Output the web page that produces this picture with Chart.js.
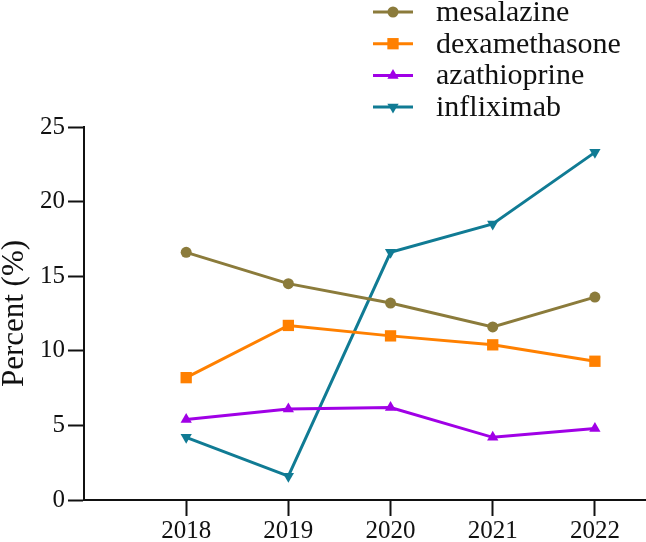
<!DOCTYPE html>
<html>
<head>
<meta charset="utf-8">
<script src="https://cdn.jsdelivr.net/npm/chart.js@4.4.0/dist/chart.umd.min.js"></script>
<style>
    html, body { margin: 0; padding: 0; background: #fff; }
    #wrap { width: 646px; height: 542px; position: relative; }
</style>
</head>
<body>
<div id="wrap"><canvas id="chart"></canvas></div>
<script>
const years = [2018, 2019, 2020, 2021, 2022];
const mesalazine = [16.6, 14.5, 13.2, 11.6, 13.6];
const dexamethasone = [8.2, 11.7, 11.0, 10.4, 9.3];
const azathioprine = [5.4, 6.1, 6.2, 4.2, 4.8];
const infliximab = [4.2, 1.6, 16.6, 18.5, 23.3];
const yTicks = [0, 5, 10, 15, 20, 25];

const serif = "'Liberation Serif', 'Times New Roman', serif";

function series(label, values, color, style, radius, rotation) {
    return {
        label: label,
        data: years.map((y, i) => ({ x: y, y: values[i] })),
        borderColor: color,
        backgroundColor: color,
        borderWidth: 3,
        pointStyle: style,
        pointRadius: radius,
        pointHoverRadius: radius,
        pointRotation: rotation || 0,
        pointBorderWidth: 0,
        tension: 0
    };
}

// legend stacked at the top right, drawn on the canvas
const stackedLegend = {
    id: 'stackedLegend',
    afterDraw(chart) {
        const ctx = chart.ctx;
        ctx.save();
        ctx.font = "30px " + serif;
        ctx.textBaseline = 'middle';
        chart.data.datasets.forEach((ds, i) => {
            const y = 12 + i * 31.7;
            ctx.strokeStyle = ds.borderColor;
            ctx.lineWidth = 3;
            ctx.beginPath();
            ctx.moveTo(373, y);
            ctx.lineTo(413, y);
            ctx.stroke();
            ctx.fillStyle = ds.borderColor;
            Chart.helpers.drawPoint(ctx, {
                pointStyle: ds.pointStyle,
                radius: ds.pointRadius,
                rotation: ds.pointRotation,
                borderWidth: 0
            }, 393, y);
            ctx.fillStyle = '#111';
            ctx.fillText(ds.label, 436, y + 1);
        });
        ctx.restore();
    }
};

new Chart(document.getElementById('chart'), {
    type: 'line',
    data: {
        datasets: [
            series('mesalazine', mesalazine, '#8b7b3b', 'circle', 5.5),
            series('dexamethasone', dexamethasone, '#ff8000', 'rect', 8),
            series('azathioprine', azathioprine, '#a000e6', 'triangle', 6.5),
            series('infliximab', infliximab, '#107b94', 'triangle', 6.5, 180)
        ]
    },
    options: {
        responsive: true,
        maintainAspectRatio: false,
        animation: false,
        layout: { autoPadding: false, padding: { top: 127, right: 0, left: 0, bottom: 0 } },
        plugins: {
            legend: { display: false },
            tooltip: { enabled: false }
        },
        scales: {
            x: {
                type: 'linear',
                min: 2017,
                max: 2022.5,
                afterBuildTicks: s => { s.ticks = years.map(v => ({ value: v })); },
                afterFit: s => { s.height = 42; },
                border: { display: true, color: '#111', width: 2 },
                grid: { drawOnChartArea: false, drawTicks: true, tickLength: 16, tickWidth: 2, color: '#111' },
                ticks: {
                    color: '#111',
                    font: { family: serif, size: 25 },
                    padding: 0,
                    maxRotation: 0,
                    callback: v => String(v)
                }
            },
            y: {
                min: 0,
                max: 25,
                afterBuildTicks: s => { s.ticks = yTicks.map(v => ({ value: v })); },
                afterFit: s => { s.width = 84; },
                border: { display: true, color: '#111', width: 2 },
                grid: { drawOnChartArea: false, drawTicks: true, tickLength: 16, tickWidth: 2, color: '#111' },
                ticks: {
                    color: '#111',
                    font: { family: serif, size: 25 },
                    padding: 3
                },
                title: {
                    display: true,
                    text: 'Percent (%)',
                    color: '#111',
                    font: { family: serif, size: 31, lineHeight: 0.95 },
                    padding: 0
                }
            }
        }
    },
    plugins: [stackedLegend]
});
</script>
</body>
</html>
